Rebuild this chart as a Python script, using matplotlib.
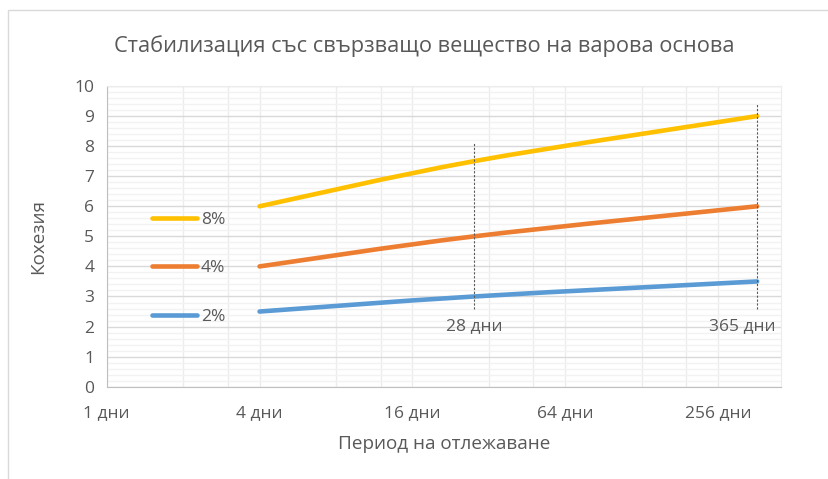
import matplotlib
matplotlib.use("Agg")
import matplotlib.pyplot as plt
from matplotlib.lines import Line2D
from matplotlib.path import Path
from matplotlib.patches import PathPatch, Rectangle
from matplotlib.ticker import FixedLocator, MultipleLocator, NullFormatter
import numpy as np

# ---- data ----
days = [4, 28, 365]
series_labels = ["8%", "4%", "2%"]
series_values = [
    [6.0, 7.5, 9.0],
    [4.0, 5.0, 6.0],
    [2.5, 3.0, 3.5],
]
series_colors = ["#FFC000", "#ED7D31", "#5B9BD5"]
major_ticks = [1, 4, 16, 64, 256]
tick_labels = ["1 дни", "4 дни", "16 дни", "64 дни", "256 дни"]
marker_days = [28, 365]
marker_labels = ["28 дни", "365 дни"]
marker_top = [8.15, 9.45]
marker_bottom = [2.6, 2.6]

title = "Стабилизация със свързващо вещество на варова основа"
xlabel = "Период на отлежаване"
ylabel = "Кохезия"

TEXT = "#595959"
W, H = 829, 479
FONT = ["Open Sans", "DejaVu Sans"]
plt.rcParams["font.family"] = FONT
TICK_FS = 12.5

fig = plt.figure(figsize=(W / 100, H / 100), dpi=100)

# chart frame (only left/top edges are inside the canvas)
fig.patches.append(Rectangle((8 / W, -0.1), 1.2, (H - 10) / H + 0.1,
                             transform=fig.transFigure, fill=False,
                             edgecolor="#d9d9d9", linewidth=1.0))

x0, x1, ytop, ybot = 106.7, 780.7, 86.0, 386.7
ax = fig.add_axes([x0 / W, (H - ybot) / H, (x1 - x0) / W, (ybot - ytop) / H])

ax.set_xscale("log", base=2)
ax.set_xlim(1, 2 ** 8.82)
ax.set_ylim(0, 10)

# grid: majors on powers of 4, minors at 2x and 3x within each step of 4
minor_x = [m * b for b in [1, 4, 16, 64, 256] for m in (2, 3)]
ax.xaxis.set_major_locator(FixedLocator(major_ticks))
ax.xaxis.set_minor_locator(FixedLocator(minor_x))
ax.set_xticklabels(tick_labels)
ax.xaxis.set_minor_formatter(NullFormatter())
ax.yaxis.set_major_locator(MultipleLocator(1))
ax.yaxis.set_minor_locator(MultipleLocator(0.2))

ax.grid(True, which="major", axis="y", color="#d9d9d9", linewidth=1.0)
ax.grid(True, which="minor", axis="y", color="#f2f2f2", linewidth=1.0)
ax.grid(True, which="both", axis="x", color="#ececec", linewidth=1.0)
ax.set_axisbelow(True)

for side in ("top", "right"):
    ax.spines[side].set_color("#ececec")
ax.spines["left"].set_color("#bfbfbf")
ax.spines["bottom"].set_color("#bfbfbf")
ax.tick_params(which="both", length=0, labelsize=TICK_FS, labelcolor=TEXT)
ax.tick_params(axis="x", pad=13)
ax.tick_params(axis="y", pad=9)


def smooth_path(xs, ys):
    """Cardinal-spline Bezier through the points, computed in log2-x space."""
    lx = np.log2(xs)
    ys = np.asarray(ys, float)
    pts = np.column_stack([lx, ys])
    n = len(pts)
    verts = [pts[0]]
    codes = [Path.MOVETO]
    for i in range(n - 1):
        p0 = pts[max(i - 1, 0)]
        p1 = pts[i]
        p2 = pts[i + 1]
        p3 = pts[min(i + 2, n - 1)]
        c1 = p1 + (p2 - p0) / 6.0
        c2 = p2 - (p3 - p1) / 6.0
        verts += [c1, c2, p2]
        codes += [Path.CURVE4] * 3
    verts = np.array(verts)
    verts[:, 0] = 2.0 ** verts[:, 0]
    return Path(verts, codes)


handles = []
for vals, col, lab in zip(series_values, series_colors, series_labels):
    patch = PathPatch(smooth_path(days, vals), fill=False, edgecolor=col,
                      linewidth=3.3, capstyle="round", joinstyle="round",
                      zorder=3)
    ax.add_patch(patch)
    handles.append(Line2D([], [], color=col, linewidth=3.3,
                          solid_capstyle="round"))

# dashed drop lines and their labels
for d, lab, top, bot in zip(marker_days, marker_labels, marker_top, marker_bottom):
    ax.plot([d, d], [bot, top], color="#595959", linewidth=0.8,
            linestyle=(0, (2, 1.5)), zorder=4)
ax.annotate(marker_labels[0], (marker_days[0], marker_bottom[0]),
            xytext=(0, -13), textcoords="offset points", ha="center",
            va="center", fontsize=TICK_FS, color=TEXT)
ax.annotate(marker_labels[1], (marker_days[1], marker_bottom[1]),
            xytext=(13, -13), textcoords="offset points", ha="right",
            va="center", fontsize=TICK_FS, color=TEXT)

leg = ax.legend(handles, series_labels, loc="upper left",
                bbox_to_anchor=(152 / W, 1 - 211.5 / H),
                bbox_transform=fig.transFigure, frameon=False,
                fontsize=TICK_FS, handlelength=2.59, handletextpad=0.22,
                labelspacing=1.88, borderpad=0, borderaxespad=0)
for t in leg.get_texts():
    t.set_color(TEXT)

fig.text(424 / W, 1 - 46 / H, title, ha="center", va="center",
         fontsize=15.7, color=TEXT)
fig.text(444 / W, 1 - 444 / H, xlabel, ha="center", va="center",
         fontsize=13.6, color=TEXT)
fig.text(38 / W, 1 - 237 / H, ylabel, ha="center", va="center",
         rotation=90, fontsize=13.6, color=TEXT)

fig.savefig("out.png", dpi=100, facecolor="white")
